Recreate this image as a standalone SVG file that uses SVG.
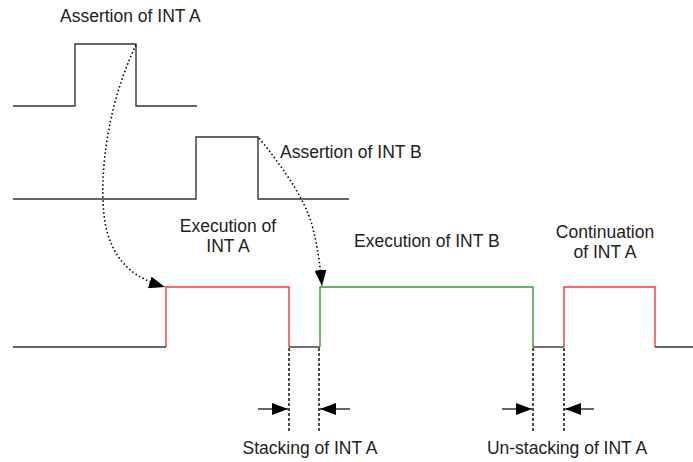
<svg xmlns="http://www.w3.org/2000/svg" width="693" height="462" viewBox="0 0 693 462">
<defs>
<marker id="ah" viewBox="0 0 10 10" refX="10" refY="5" markerWidth="10" markerHeight="10" markerUnits="userSpaceOnUse" orient="auto">
<path d="M0,0 L10,5 L0,10 z" fill="#000"/>
</marker>
<marker id="ah2" viewBox="0 0 16 12" refX="16" refY="6" markerWidth="16" markerHeight="12" markerUnits="userSpaceOnUse" orient="auto">
<path d="M0,0 L16,6 L0,12 z" fill="#000"/>
</marker>
</defs>
<style>
.w{fill:none;stroke:#333;stroke-width:1.4}
.r{fill:none;stroke:#ff3333;stroke-width:1.4}
.g{fill:none;stroke:#339933;stroke-width:1.4}
.d{fill:none;stroke:#000;stroke-width:1.6;stroke-dasharray:1.5 2.5}
.dv{fill:none;stroke:#000;stroke-width:1.4;stroke-dasharray:3 2}
.a{fill:none;stroke:#000;stroke-width:1.2}
text{font-family:"Liberation Sans",Arial,sans-serif;font-size:17.5px;fill:#222}
</style>
<rect width="693" height="462" fill="#fff"/>
<g id="waveA">
<path class="w" d="M13,106 H75 V44 H136 V106 H197"/>
</g>
<g id="waveB">
<path class="w" d="M13,199 H196 V137 H258 V199 H349"/>
</g>
<g id="waveExec">
<path class="w" d="M13,347 H166"/>
<path class="r" d="M166,347 V287 H289 V347"/>
<path class="w" d="M289,347 H320"/>
<path class="g" d="M320,347 V287 H533 V347"/>
<path class="w" d="M533,347 H564"/>
<path class="r" d="M564,347 V287 H655 V347"/>
<path class="w" d="M655,347 H693"/>
</g>
<g id="connectors">
<path class="d" d="M136,45 C100,120 98,205 108,235 C118,265 135,278 165,287" marker-end="url(#ah2)"/>
<path class="d" d="M259,138 C285,170 305,200 312,225 C318,248 320,265 322,286" marker-end="url(#ah2)"/>
<path class="dv" d="M289,348 V433"/>
<path class="dv" d="M319,348 V433"/>
<path class="dv" d="M533,348 V433"/>
<path class="dv" d="M564,348 V433"/>
<path class="a" d="M258,409 H288" marker-end="url(#ah2)"/>
<path class="a" d="M350,409 H320" marker-end="url(#ah2)"/>
<path class="a" d="M502,409 H532" marker-end="url(#ah2)"/>
<path class="a" d="M594,409 H565" marker-end="url(#ah2)"/>
</g>
<g id="labels">
<text x="60" y="22">Assertion of INT A</text>
<text x="280" y="158">Assertion of INT B</text>
<text x="228" y="232" text-anchor="middle">Execution of</text>
<text x="228" y="252" text-anchor="middle">INT A</text>
<text x="354" y="247">Execution of INT B</text>
<text x="605" y="238" text-anchor="middle">Continuation</text>
<text x="605" y="258" text-anchor="middle">of INT A</text>
<text x="310" y="454" text-anchor="middle">Stacking of INT A</text>
<text x="567" y="454" text-anchor="middle">Un-stacking of INT A</text>
</g>
</svg>
